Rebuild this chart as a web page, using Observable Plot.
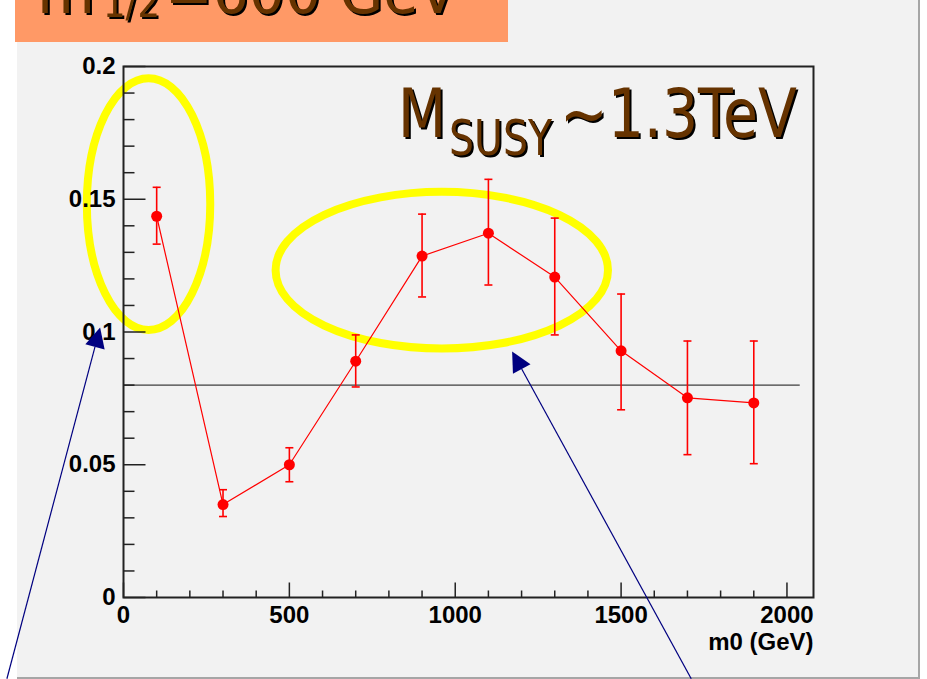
<!DOCTYPE html>
<html>
<head>
<meta charset="utf-8">
<script src="https://cdn.jsdelivr.net/npm/d3@7"></script>
<script src="https://cdn.jsdelivr.net/npm/@observablehq/plot@0.6"></script>
<style>
  body { margin: 0; background: #fff; }
  #wrap { position: relative; width: 927px; height: 679px; overflow: hidden; background: #fff; }
  #panel { position: absolute; left: 17px; top: 0; width: 901px; height: 677px; background: #f2f2f2;
           border-right: 2px solid #a6a6a6; border-bottom: 2px solid #a6a6a6; }
  #chart { position: absolute; left: 0; top: 0; }
  #overlay { position: absolute; left: 0; top: 0; pointer-events: none; }
  .shadowed { filter: drop-shadow(2px 2px 0 #000); }
</style>
</head>
<body>
<div id="wrap">
  <div id="panel"></div>
  <div id="chart"></div>
  <svg id="overlay" width="927" height="679" font-family="'DejaVu Sans', sans-serif">
    <rect x="15" y="0" width="493" height="42" fill="#ff9966"></rect>
    <g fill="#663300" class="shadowed">
      <text x="37" y="13" font-size="60" textLength="58" lengthAdjust="spacingAndGlyphs">m</text>
      <text x="103" y="17" font-size="40" textLength="57" lengthAdjust="spacingAndGlyphs">1/2</text>
      <text x="165" y="13" font-size="60" textLength="292" lengthAdjust="spacingAndGlyphs">=600 GeV</text>
    </g>
    <g fill="#663300" class="shadowed">
      <text x="398" y="137" font-size="68" textLength="48" lengthAdjust="spacingAndGlyphs">M</text>
      <text x="449" y="155" font-size="50" textLength="103" lengthAdjust="spacingAndGlyphs">SUSY</text>
      <text x="560" y="137" font-size="68" textLength="237" lengthAdjust="spacingAndGlyphs">~1.3TeV</text>
    </g>
  </svg>
</div>
<script>
// ---- data ----
const m0 = [100, 300, 500, 700, 900, 1100, 1300, 1500, 1700, 1900];
const value = [0.1436, 0.0350, 0.0500, 0.0890, 0.1286, 0.1372, 0.1207, 0.0929, 0.0752, 0.0733];
const errLow = [0.1331, 0.0305, 0.0436, 0.0793, 0.1132, 0.1177, 0.0989, 0.0707, 0.0538, 0.0504];
const errHigh = [0.1545, 0.0406, 0.0564, 0.0989, 0.1444, 0.1575, 0.1429, 0.1143, 0.0966, 0.0966];

const refY = [0.08];
const refX = [0, 2040];

const xTickValues = [0, 500, 1000, 1500, 2000];
const xTickLabels = ["0", "500", "1000", "1500", "2000"];
const yTickValues = [0, 0.05, 0.1, 0.15, 0.2];
const yTickLabels = ["0", "0.05", "0.1", "0.15", "0.2"];
const xLabel = "m0 (GeV)";

// annotations (data units)
const ringX = [77, 961];
const ringY = [0.148, 0.1231];
const ringRx = [186, 501];
const ringRy = [0.0474, 0.0295];

const arrowTailX = [-350, 1713];
const arrowTailY = [-0.0308, -0.0308];
const arrowTipX = [-69, 1173];
const arrowTipY = [0.1015, 0.0925];

// ---- build ----
const points = m0.map((x, i) => ({x, y: value[i], lo: errLow[i], hi: errHigh[i]}));
const xMinor = d3.range(0, 2001, 100).filter(v => !xTickValues.includes(v));
const yMinor = d3.ticks(0, 0.2, 20).filter(v => !yTickValues.some(t => Math.abs(t - v) < 1e-9));

const segment = (dx1, dy1, dx2, dy2) => ({draw(ctx) { ctx.moveTo(dx1, dy1); ctx.lineTo(dx2, dy2); }});

function rings(index, {x, y}) {
  const g = d3.create("svg:g");
  ringX.forEach((cx, i) => {
    g.append("ellipse")
      .attr("cx", x(cx)).attr("cy", y(ringY[i]))
      .attr("rx", Math.abs(x(cx + ringRx[i]) - x(cx)))
      .attr("ry", Math.abs(y(ringY[i] + ringRy[i]) - y(ringY[i])))
      .attr("fill", "none").attr("stroke", "#ffff00").attr("stroke-width", 8);
  });
  return g.node();
}

function arrows(index, {x, y}) {
  const g = d3.create("svg:g");
  arrowTipX.forEach((tx, i) => {
    const x1 = x(arrowTailX[i]), y1 = y(arrowTailY[i]), x2 = x(tx), y2 = y(arrowTipY[i]);
    const a = Math.atan2(y2 - y1, x2 - x1);
    const L = 20, W = 10;
    const bx = x2 - L * Math.cos(a), by = y2 - L * Math.sin(a);
    g.append("line").attr("x1", x1).attr("y1", y1).attr("x2", bx).attr("y2", by)
      .attr("stroke", "#000080").attr("stroke-width", 1.2);
    g.append("path")
      .attr("d", `M${x2},${y2}L${bx - W * Math.sin(a)},${by + W * Math.cos(a)}L${bx + W * Math.sin(a)},${by - W * Math.cos(a)}Z`)
      .attr("fill", "#000080");
  });
  return g.node();
}

const axisFont = {fontSize: 24, fontWeight: "bold", fontFamily: "'Liberation Sans', Arial, sans-serif"};

const chart = Plot.plot({
  width: 927,
  height: 679,
  marginLeft: 123,
  marginRight: 114,
  marginTop: 66,
  marginBottom: 82,
  style: {background: "transparent", color: "#000", overflow: "visible"},
  x: {domain: [0, 2080]},
  y: {domain: [0, 0.2]},
  marks: [
    rings,
    // reference line
    Plot.ruleY(refY, {x1: refX[0], x2: refX[1], stroke: "#111", strokeWidth: 1}),
    // frame
    Plot.frame({stroke: "#222", strokeWidth: 2}),
    // tick marks (inside the frame)
    Plot.dot(yTickValues, {x: () => 0, y: d => d, symbol: segment(0, 0, 22, 0), stroke: "#222", strokeWidth: 1.5, fill: "none"}),
    Plot.dot(yMinor, {x: () => 0, y: d => d, symbol: segment(0, 0, 11, 0), stroke: "#222", strokeWidth: 1.5, fill: "none"}),
    Plot.dot(xTickValues, {x: d => d, y: () => 0, symbol: segment(0, 0, 0, -15), stroke: "#222", strokeWidth: 1.5, fill: "none"}),
    Plot.dot(xMinor, {x: d => d, y: () => 0, symbol: segment(0, 0, 0, -7), stroke: "#222", strokeWidth: 1.5, fill: "none"}),
    // axis labels
    Plot.axisY({ticks: yTickValues, tickFormat: d => yTickLabels[yTickValues.indexOf(d)], tickSize: 0, tickPadding: 8, label: null, ...axisFont}),
    Plot.axisX({ticks: xTickValues, tickFormat: d => xTickLabels[xTickValues.indexOf(d)], tickSize: 0, tickPadding: 8, label: null, ...axisFont}),
    Plot.text([xLabel], {frameAnchor: "bottom-right", text: d => d, dy: 45, textAnchor: "end", lineAnchor: "middle", ...axisFont}),
    // data
    Plot.line(points, {x: "x", y: "y", stroke: "#ff0000", strokeWidth: 1.2}),
    Plot.ruleX(points, {x: "x", y1: "lo", y2: "hi", stroke: "#ff0000", strokeWidth: 1.6}),
    Plot.dot(points, {x: "x", y: "lo", symbol: segment(-4, 0, 4, 0), stroke: "#ff0000", strokeWidth: 1.6, fill: "none"}),
    Plot.dot(points, {x: "x", y: "hi", symbol: segment(-4, 0, 4, 0), stroke: "#ff0000", strokeWidth: 1.6, fill: "none"}),
    Plot.dot(points, {x: "x", y: "y", r: 5.5, fill: "#ff0000", stroke: "none"}),
    arrows
  ]
});
document.getElementById("chart").appendChild(chart);
</script>
</body>
</html>
